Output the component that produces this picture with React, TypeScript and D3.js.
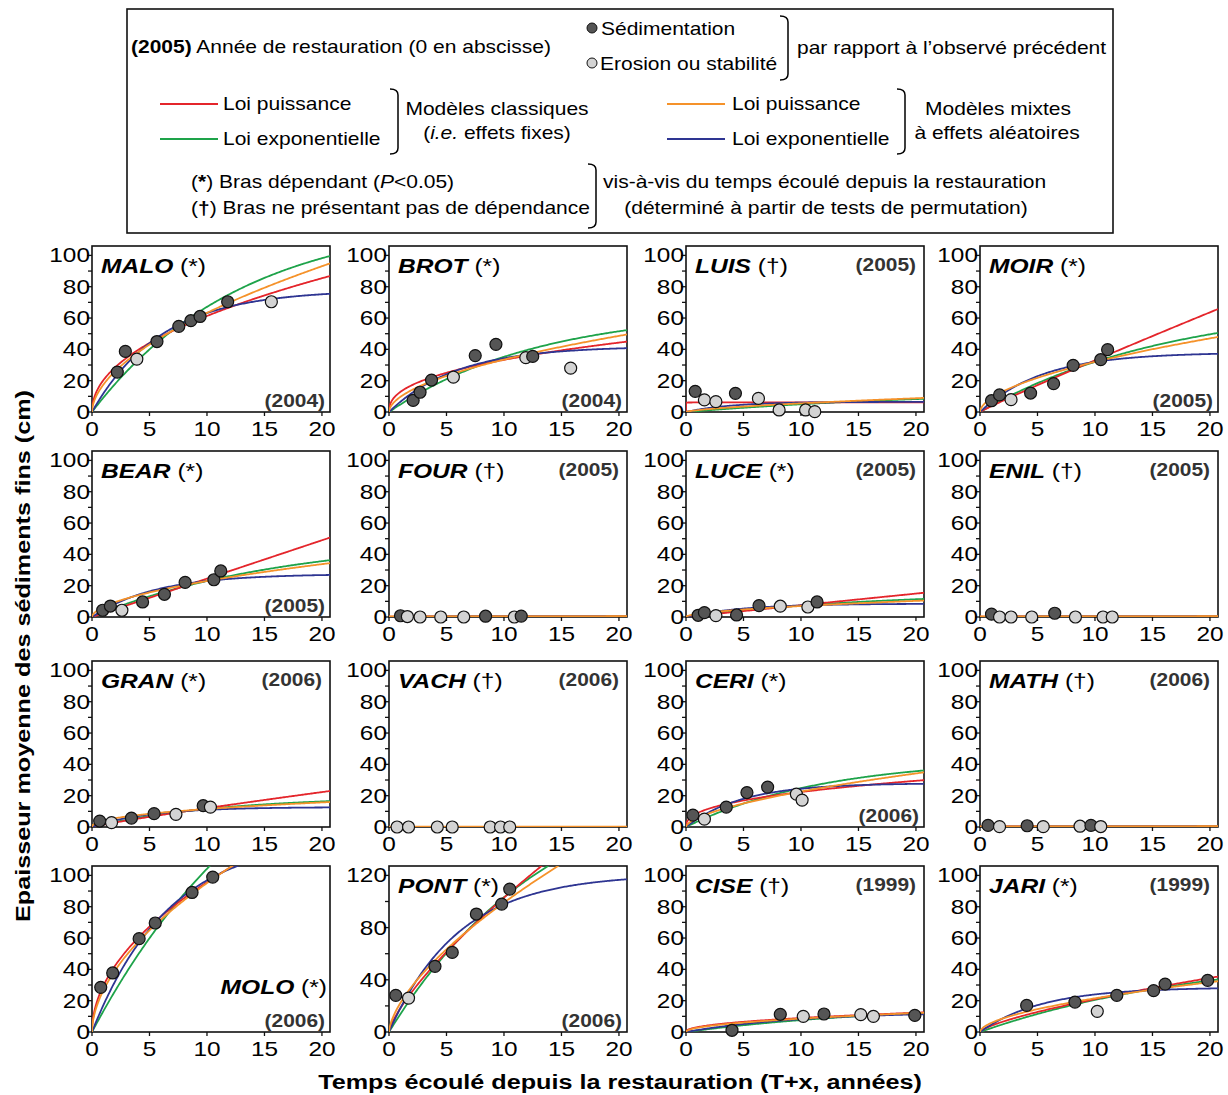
import React from "react";
import * as d3 from "d3";

// ---------- DATA ----------
const panelNames = ["MALO", "BROT", "LUIS", "MOIR", "BEAR", "FOUR", "LUCE", "ENIL", "GRAN", "VACH", "CERI", "MATH", "MOLO", "PONT", "CISE", "JARI"];
const panelMarks = ["*", "*", "†", "*", "*", "†", "*", "†", "*", "†", "*", "†", "*", "*", "†", "*"];
const panelYears = ["2004", "2004", "2005", "2005", "2005", "2005", "2005", "2005", "2006", "2006", "2006", "2006", "2006", "2006", "1999", "1999"];
const yearPlacement = ["bottom", "bottom", "top", "bottom", "bottom", "top", "top", "top", "top", "top", "bottom", "top", "molo", "bottom", "top", "top"];
const yTopTick = [100, 100, 100, 100, 100, 100, 100, 100, 100, 100, 100, 100, 100, 120, 100, 100];
const yLabelStep = [20, 20, 20, 20, 20, 20, 20, 20, 20, 20, 20, 20, 20, 40, 20, 20];
const xTicks = [0, 5, 10, 15, 20];

// observations: [years since restoration, thickness (cm), 1 = sedimentation / 0 = erosion or stability]
const maloObs = [[2.2, 25.5, 1], [2.9, 38.7, 1], [3.9, 33.8, 0], [5.65, 45, 1], [7.55, 54.7, 1], [8.6, 58.3, 1], [9.4, 61, 1], [11.8, 70.4, 1], [15.6, 70.4, 0]];
const brotObs = [[2.1, 7.4, 1], [2.7, 12.6, 1], [3.7, 20.4, 1], [5.6, 22.3, 0], [7.5, 36, 1], [9.3, 43.2, 1], [11.9, 34.7, 0], [12.5, 35.5, 1], [15.8, 28, 0]];
const luisObs = [[0.8, 13.2, 1], [1.6, 7.7, 0], [2.6, 6.6, 0], [4.3, 11.9, 1], [6.3, 8.7, 0], [8.1, 1.3, 0], [10.4, 1.3, 0], [11.2, 0.2, 0]];
const moirObs = [[1.0, 7.2, 1], [1.7, 10.9, 1], [2.7, 7.9, 0], [4.4, 12.1, 1], [6.4, 18.1, 1], [8.1, 29.8, 1], [10.5, 33.4, 1], [11.1, 39.8, 1]];
const bearObs = [[0.93, 4.3, 1], [1.6, 7, 1], [2.6, 4.3, 0], [4.4, 9.6, 1], [6.3, 14.5, 1], [8.1, 22.1, 1], [10.6, 23.8, 1], [11.2, 29.4, 1]];
const fourObs = [[1.0, 0.8, 1], [1.6, 0.3, 0], [2.7, 0, 0], [4.5, 0, 0], [6.5, 0, 0], [8.4, 0.5, 1], [10.9, 0, 0], [11.5, 0.6, 1]];
const luceObs = [[1.06, 1.1, 1], [1.6, 2.8, 1], [2.6, 0.9, 0], [4.4, 1.3, 1], [6.35, 7.3, 1], [8.2, 6.9, 0], [10.6, 6.4, 0], [11.4, 9.6, 1]];
const enilObs = [[1.0, 1.8, 1], [1.7, 0, 0], [2.7, 0, 0], [4.5, 0, 0], [6.5, 2.4, 1], [8.3, 0, 0], [10.7, 0, 0], [11.5, 0, 0]];
const granObs = [[0.67, 3.8, 1], [1.7, 2.8, 0], [3.43, 5.7, 1], [5.4, 8.5, 1], [7.3, 8.1, 0], [9.67, 13.6, 1], [10.3, 12.7, 0]];
const vachObs = [[0.7, 0, 0], [1.7, 0, 0], [4.2, 0, 0], [5.5, 0, 0], [8.8, 0, 0], [9.7, 0, 0], [10.5, 0, 0]];
const ceriObs = [[0.6, 7.6, 1], [1.6, 5, 0], [3.5, 12.7, 1], [5.3, 22, 1], [7.1, 25.5, 1], [9.6, 21, 0], [10.1, 17.2, 0]];
const mathObs = [[0.7, 1, 1], [1.7, 0.2, 0], [4.1, 0.8, 1], [5.5, 0.2, 0], [8.7, 0.5, 0], [9.65, 1, 1], [10.5, 0.3, 0]];
const moloObs = [[0.76, 28.5, 1], [1.8, 37.7, 1], [4.1, 59.6, 1], [5.5, 69.6, 1], [8.7, 89.1, 1], [10.5, 98.9, 1]];
const pontObs = [[0.59, 28.1, 1], [1.7, 26, 0], [4.0, 50.3, 1], [5.5, 61, 1], [7.6, 90.4, 1], [9.8, 98, 1], [10.5, 109.5, 1]];
const ciseObs = [[4.0, 1.1, 1], [8.2, 11.3, 1], [10.2, 10, 0], [12.0, 11.5, 1], [15.2, 11.1, 0], [16.3, 10, 0], [19.9, 10.6, 1]];
const jariObs = [[4.06, 17, 1], [8.26, 19.1, 1], [10.2, 13.2, 0], [11.9, 23.4, 1], [15.1, 26.4, 1], [16.1, 30.6, 1], [19.8, 33, 1]];
const panelObs = [maloObs, brotObs, luisObs, moirObs, bearObs, fourObs, luceObs, enilObs, granObs, vachObs, ceriObs, mathObs, moloObs, pontObs, ciseObs, jariObs];

// fitted model parameters
// power law y = a * t^b ; exponential law y = A * (1 - exp(-k t))
const powerFixed = [[20.4, 0.478], [12.9, 0.412], [6.1, 0.005], [3.73, 0.947], [2.45, 1.0], [0.3, 0.05], [0.77, 0.99], [0.3, 0.05], [1.55, 0.89], [0.1, 0.05], [8.9, 0.4], [0.3, 0.05], [29.7, 0.508], [18.4, 0.748], [3.1, 0.46], [4.03, 0.717]];
const expFixed = [[125, 0.077], [65.6, 0.077], [15, 0.04], [71, 0.06], [51, 0.06], [0.4, 0.3], [16.2, 0.06], [0.4, 0.3], [19.7, 0.088], [0.1, 0.3], [44, 0.083], [0.4, 0.3], [231, 0.06], [205, 0.07], [18, 0.055], [52, 0.05]];
const powerMixed = [[17.6, 0.556], [9.7, 0.538], [1.18, 0.67], [8.94, 0.554], [6.42, 0.554], [0.4, 0.05], [1.96, 0.554], [0.4, 0.05], [4.08, 0.45], [0.2, 0.05], [5.77, 0.594], [0.4, 0.05], [26.8, 0.55], [22.4, 0.646], [2.7, 0.5], [5.87, 0.564]];
const expMixed = [[78, 0.166], [42, 0.17], [6.5, 0.25], [38, 0.184], [27.5, 0.181], [0.3, 0.3], [8.5, 0.2], [0.3, 0.3], [12.7, 0.2], [0.1, 0.3], [28, 0.206], [0.3, 0.3], [125, 0.149], [121, 0.165], [13, 0.1], [28.5, 0.184]];

// ---------- LAYOUT / STYLE ----------
const FONT = "'Liberation Sans', Arial, Helvetica, sans-serif";
const colLefts = [92, 389, 686, 980];
const rowTops = [246, 451, 661, 866];
const plotW = 238;
const plotH = 166;
const X_MAX = 20.7;
const C_RED = "#e4252b";
const C_GREEN = "#1ea34a";
const C_ORANGE = "#f5922a";
const C_BLUE = "#2e3592";
const DARK = "#555555";
const LIGHT = "#d3d3d3";

const tSamples = [0, 0.002, 0.01, 0.03, 0.06].concat(d3.range(0.1, X_MAX, 0.1)).concat([X_MAX]);

function Txt(props: any) {
  const { x, y, sx = 1.2, size, anchor = "start", weight = "normal", italic = false, fill = "#000", rotate = 0, children } = props;
  return (
    <text
      transform={`translate(${x},${y}) rotate(${rotate}) scale(${sx},1)`}
      fontSize={size}
      textAnchor={anchor}
      fontWeight={weight}
      fontStyle={italic ? "italic" : "normal"}
      fill={fill}
      fontFamily={FONT}
    >
      {children}
    </text>
  );
}

function Bracket({ x, y1, y2 }: { x: number; y1: number; y2: number }) {
  const d = `M ${x - 8} ${y1} Q ${x} ${y1} ${x} ${y1 + 6} L ${x} ${y2 - 6} Q ${x} ${y2} ${x - 8} ${y2}`;
  return <path d={d} fill="none" stroke="#000" strokeWidth={1.5} />;
}

function Panel({ i }: { i: number }) {
  const col = i % 4;
  const row = Math.floor(i / 4);
  const left = colLefts[col];
  const top = rowTops[row];
  const yMaxDomain = yTopTick[i] * 1.06;
  const x = d3.scaleLinear().domain([0, X_MAX]).range([left, left + plotW]);
  const y = d3.scaleLinear().domain([0, yMaxDomain]).range([top + plotH, top]);
  const line = d3.line<number[]>().x((d) => x(d[0])).y((d) => y(d[1]));

  const pw = (p: number[]) => tSamples.map((t) => [t, p[0] * Math.pow(t, p[1])]);
  const ex = (p: number[]) => tSamples.map((t) => [t, p[0] * (1 - Math.exp(-p[1] * t))]);

  const curves = [
    { d: ex(expFixed[i]), c: C_GREEN },
    { d: pw(powerFixed[i]), c: C_RED },
    { d: ex(expMixed[i]), c: C_BLUE },
    { d: pw(powerMixed[i]), c: C_ORANGE },
  ];

  const minorStep = yLabelStep[i] / 2;
  const yTicksAll = d3.range(0, yTopTick[i] + 0.001, minorStep);
  const clipId = `clip-${i}`;
  const place = yearPlacement[i];

  return (
    <g>
      <defs>
        <clipPath id={clipId}>
          <rect x={left} y={top} width={plotW} height={plotH} />
        </clipPath>
      </defs>
      <rect x={left} y={top} width={plotW} height={plotH} fill="#fff" stroke="#111" strokeWidth={1.6} />
      {yTicksAll.map((v) => {
        const major = Math.abs(v / yLabelStep[i] - Math.round(v / yLabelStep[i])) < 1e-6;
        return (
          <g key={"y" + v}>
            <line x1={left - (major ? 5 : 4)} x2={left} y1={y(v)} y2={y(v)} stroke="#111" strokeWidth={1.3} />
            {major && (
              <Txt x={left - 2} y={y(v) + 7} size={20} sx={1.22} anchor="end">
                {String(v)}
              </Txt>
            )}
          </g>
        );
      })}
      {xTicks.map((v) => (
        <g key={"x" + v}>
          <line x1={x(v)} x2={x(v)} y1={top + plotH} y2={top + plotH + 4} stroke="#111" strokeWidth={1.3} />
          <Txt x={x(v)} y={top + plotH + 24} size={20} sx={1.22} anchor="middle">
            {String(v)}
          </Txt>
        </g>
      ))}
      <g clipPath={`url(#${clipId})`}>
        {curves.map((c, k) => (
          <path key={k} d={line(c.d as any) || ""} fill="none" stroke={c.c} strokeWidth={1.8} />
        ))}
      </g>
      {panelObs[i].map((o, k) => (
        <circle key={k} cx={x(o[0])} cy={y(o[1])} r={6} fill={o[2] ? DARK : LIGHT} stroke="#111" strokeWidth={1.2} />
      ))}
      {place === "molo" ? (
        <g>
          <Txt x={left + plotW - 3} y={top + 128} size={21} sx={1.17} anchor="end">
            <tspan fontWeight="bold" fontStyle="italic">{panelNames[i]}</tspan>
            <tspan> ({panelMarks[i]})</tspan>
          </Txt>
          <Txt x={left + plotW - 5} y={top + plotH - 5} size={19} sx={1.1} anchor="end" weight="bold" fill="#333">
            ({panelYears[i]})
          </Txt>
        </g>
      ) : (
        <g>
          <Txt x={left + 9} y={top + 27} size={21} sx={1.17}>
            <tspan fontWeight="bold" fontStyle="italic">{panelNames[i]}</tspan>
            <tspan> ({panelMarks[i]})</tspan>
          </Txt>
          {place === "top" ? (
            <Txt x={left + plotW - 8} y={top + 25} size={19} sx={1.1} anchor="end" weight="bold" fill="#333">
              ({panelYears[i]})
            </Txt>
          ) : (
            <Txt x={left + plotW - 5} y={top + plotH - 5} size={19} sx={1.1} anchor="end" weight="bold" fill="#333">
              ({panelYears[i]})
            </Txt>
          )}
        </g>
      )}
    </g>
  );
}

function Legend() {
  const fs = 17.5;
  return (
    <g>
      <rect x={127} y={9} width={986} height={224} fill="#fff" stroke="#111" strokeWidth={1.6} />
      <Txt x={131} y={53} size={fs}>
        <tspan fontWeight="bold">(2005)</tspan>
        <tspan> Année de restauration (0 en abscisse)</tspan>
      </Txt>
      <circle cx={592} cy={28} r={5} fill={DARK} stroke="#111" strokeWidth={1} />
      <Txt x={601} y={35} size={fs}>Sédimentation</Txt>
      <circle cx={592} cy={63} r={5} fill={LIGHT} stroke="#111" strokeWidth={1} />
      <Txt x={600} y={70} size={fs}>Erosion ou stabilité</Txt>
      <Bracket x={788} y1={16} y2={80} />
      <Txt x={797} y={54} size={fs}>par rapport à l’observé précédent</Txt>

      <line x1={160} x2={218} y1={104} y2={104} stroke={C_RED} strokeWidth={2} />
      <Txt x={223} y={110} size={fs}>Loi puissance</Txt>
      <line x1={160} x2={218} y1={139} y2={139} stroke={C_GREEN} strokeWidth={2} />
      <Txt x={223} y={145} size={fs}>Loi exponentielle</Txt>
      <Bracket x={398} y1={89} y2={154} />
      <Txt x={497} y={115} size={fs} anchor="middle">Modèles classiques</Txt>
      <Txt x={497} y={139} size={fs} anchor="middle">
        <tspan>(</tspan>
        <tspan fontStyle="italic">i.e.</tspan>
        <tspan> effets fixes)</tspan>
      </Txt>

      <line x1={667} x2={725} y1={104} y2={104} stroke={C_ORANGE} strokeWidth={2} />
      <Txt x={732} y={110} size={fs}>Loi puissance</Txt>
      <line x1={667} x2={725} y1={139} y2={139} stroke={C_BLUE} strokeWidth={2} />
      <Txt x={732} y={145} size={fs}>Loi exponentielle</Txt>
      <Bracket x={905} y1={89} y2={154} />
      <Txt x={998} y={115} size={fs} anchor="middle">Modèles mixtes</Txt>
      <Txt x={997} y={139} size={fs} anchor="middle">à effets aléatoires</Txt>

      <Txt x={191} y={188} size={fs}>
        <tspan>(</tspan>
        <tspan fontWeight="bold">*</tspan>
        <tspan>) Bras dépendant (</tspan>
        <tspan fontStyle="italic">P</tspan>
        <tspan>&lt;0.05)</tspan>
      </Txt>
      <Txt x={191} y={214} size={fs}>
        <tspan>(</tspan>
        <tspan fontWeight="bold">†</tspan>
        <tspan>) Bras ne présentant pas de dépendance</tspan>
      </Txt>
      <Bracket x={596} y1={164} y2={228} />
      <Txt x={603} y={188} size={fs}>vis-à-vis du temps écoulé depuis la restauration</Txt>
      <Txt x={826} y={214} size={fs} anchor="middle">(déterminé à partir de tests de permutation)</Txt>
    </g>
  );
}

export default function App() {
  return (
    <svg
      width={1228}
      height={1095}
      viewBox="0 0 1228 1095"
      style={{ position: "absolute", left: 0, top: 0, background: "#fff" }}
    >
      <rect x={0} y={0} width={1228} height={1095} fill="#fff" />
      <Legend />
      {panelNames.map((_, i) => (
        <Panel key={i} i={i} />
      ))}
      <Txt x={30} y={656} size={21} sx={1.2} rotate={-90} anchor="middle" weight="bold">
        Epaisseur moyenne des sédiments fins (cm)
      </Txt>
      <Txt x={620} y={1089} size={21} sx={1.2} anchor="middle" weight="bold">
        Temps écoulé depuis la restauration (T+x, années)
      </Txt>
    </svg>
  );
}
